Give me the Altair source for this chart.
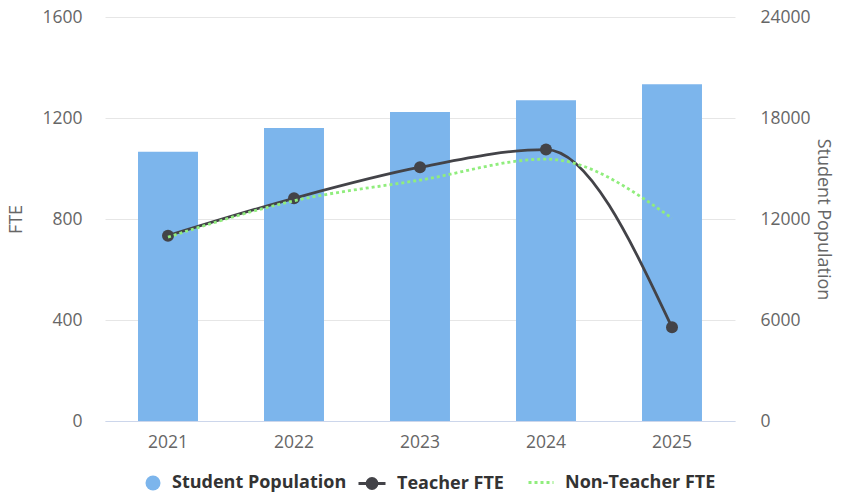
import altair as alt
import pandas as pd

years = ["2021", "2022", "2023", "2024", "2025"]
student_population = [16000, 17400, 18350, 19050, 20000]
teacher_fte = [734, 882, 1005, 1075, 371]
non_teacher_fte = [728, 872, 954, 1037, 803]

fte_ticks = [0, 400, 800, 1200, 1600]
student_ticks = [0, 6000, 12000, 18000, 24000]

df = pd.DataFrame({
    "Year": years,
    "Students": student_population,
    "Teacher": teacher_fte,
    "NonTeacher": non_teacher_fte,
})

FONT = "Open Sans"
AXIS_TXT = "#666666"
LEG_TXT = "#333333"
BAR_C = "#7cb5ec"
TEACH_C = "#434348"
NONT_C = "#90ed7d"
LBL = 17.5

x_enc = alt.X(
    "Year:N", title=None,
    scale=alt.Scale(paddingInner=0.524, paddingOuter=0.262),
    axis=alt.Axis(labelAngle=0, ticks=False, grid=False, domainColor="#ccd6eb",
                  domainWidth=1, labelFont=FONT, labelFontSize=LBL,
                  labelColor=AXIS_TXT, labelPadding=12),
)

fte_scale = alt.Scale(domain=[0, 1600], nice=False)


def fte_axis():
    return alt.Axis(title="FTE", orient="left", values=fte_ticks, grid=True,
                    gridColor="#e6e6e6", gridWidth=1, domain=False, ticks=False,
                    labelPadding=23, labelFont=FONT, labelFontSize=LBL,
                    labelColor=AXIS_TXT, titleFont=FONT, titleFontSize=18,
                    titleFontWeight="normal", titleColor=AXIS_TXT, titlePadding=16,
                    format="d")


def legend(x, y, **kw):
    return alt.Legend(title=None, orient="none", legendX=x, legendY=y,
                      labelFont=FONT, labelFontSize=18, labelFontWeight="bold",
                      labelColor=LEG_TXT, labelOffset=10, labelLimit=400, **kw)


base = alt.Chart(df)

bars = base.mark_bar().transform_calculate(s1="'Student Population'").encode(
    x=x_enc,
    y=alt.Y("Students:Q", scale=alt.Scale(domain=[0, 24000], nice=False),
            axis=alt.Axis(title="Student Population", orient="right",
                          values=student_ticks, grid=False, domain=False, ticks=False,
                          labelPadding=25, labelFont=FONT, labelFontSize=LBL,
                          labelColor=AXIS_TXT, titleFont=FONT, titleFontSize=18,
                          titleFontWeight="normal", titleColor=AXIS_TXT,
                          titlePadding=3, format="d")),
    color=alt.Color("s1:N", scale=alt.Scale(domain=["Student Population"], range=[BAR_C]),
                    legend=legend(39, 457, symbolType="circle", symbolSize=225,
                                  symbolStrokeWidth=0)),
)

teacher_line = base.mark_line(color=TEACH_C, strokeWidth=2.8, interpolate="monotone").encode(
    x=x_enc,
    y=alt.Y("Teacher:Q", scale=fte_scale, axis=fte_axis()),
)

teacher_pts = base.mark_circle(color=TEACH_C, size=144, opacity=1).encode(
    x=x_enc,
    y=alt.Y("Teacher:Q", scale=fte_scale, axis=fte_axis()),
)

nonteacher_line = base.mark_line(color=NONT_C, strokeWidth=2.8, interpolate="monotone").transform_calculate(
    s3="'Non-Teacher FTE'"
).encode(
    x=x_enc,
    y=alt.Y("NonTeacher:Q", scale=fte_scale, axis=fte_axis()),
    strokeDash=alt.StrokeDash("s3:N",
                              scale=alt.Scale(domain=["Non-Teacher FTE"], range=[[3, 3]]),
                              legend=legend(422, 451.5, symbolType="stroke", symbolSize=625,
                                            symbolStrokeWidth=2.8, symbolStrokeColor=NONT_C)),
)

line_dot_path = "M-1,0L1,0M0.37,0A0.37,0.37,0,1,1,-0.37,0A0.37,0.37,0,1,1,0.37,0Z"

teacher_legend_helper = base.mark_point(filled=False, color=TEACH_C, fill=TEACH_C,
                                        opacity=0).transform_calculate(
    s2="'Teacher FTE'"
).encode(
    x=x_enc,
    y=alt.Y("Teacher:Q", scale=fte_scale, axis=fte_axis()),
    shape=alt.Shape("s2:N", scale=alt.Scale(domain=["Teacher FTE"], range=[line_dot_path]),
                    legend=legend(252, 451.5, symbolSize=729, symbolStrokeWidth=2.8,
                                  symbolOpacity=1)),
)

fte_layers = alt.layer(teacher_line, teacher_pts, nonteacher_line, teacher_legend_helper)

chart = alt.layer(bars, fte_layers).resolve_scale(y="independent").properties(
    width=630, height=404,
    padding={"left": 97, "top": 9, "right": 101, "bottom": 71},
    autosize=alt.AutoSizeParams(type="none"),
    background="#ffffff",
).configure_view(strokeWidth=0)

chart.save("out.html", embed_options={"renderer": "svg", "actions": False})
